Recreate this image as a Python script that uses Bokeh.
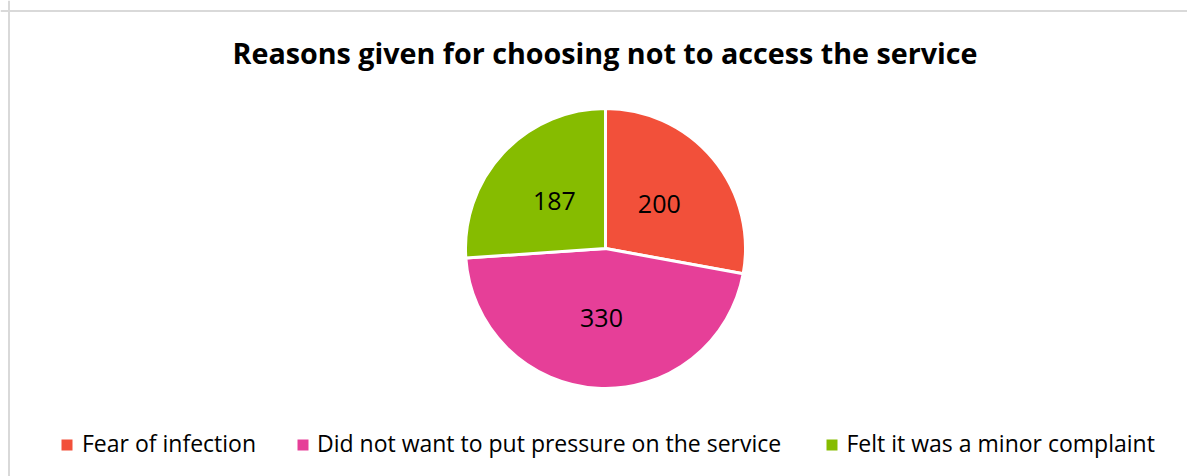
import math
from bokeh.plotting import figure
from bokeh.models import Range1d, Span, ColumnDataSource
from bokeh.core.properties import value
from bokeh.embed import file_html
from bokeh.resources import INLINE

title = "Reasons given for choosing not to access the service"
categories = ["Fear of infection", "Did not want to put pressure on the service", "Felt it was a minor complaint"]
counts = [200, 330, 187]
colors = ["#F2503A", "#E63F98", "#86BC00"]

W, H = 1187, 476
FONT = "Open Sans"
p = figure(width=W, height=H, x_range=Range1d(0, W), y_range=Range1d(0, H),
           output_backend="svg", toolbar_location=None, min_border=0,
           outline_line_color=None, background_fill_color="white", border_fill_color="white")
p.axis.visible = False
p.grid.visible = False

# chart border (top and left visible)
p.add_layout(Span(location=H - 10.5, dimension="width", line_color="#D9D9D9", line_width=2))
p.add_layout(Span(location=8.5, dimension="height", line_color="#D9D9D9", line_width=2))

cx, cy, r = 605, H - 248, 140
total = sum(counts)
starts, ends, lx, ly = [], [], [], []
a = math.pi / 2
for c in counts:
    sweep = 2 * math.pi * c / total
    starts.append(a)
    ends.append(a - sweep)
    mid = a - sweep / 2
    lx.append(cx + 0.5 * r * math.cos(mid))
    ly.append(cy + 0.5 * r * math.sin(mid))
    a -= sweep

src = ColumnDataSource(dict(start=starts, end=ends, color=colors, lx=lx, ly=ly,
                            label=[str(c) for c in counts]))
p.wedge(x=cx, y=cy, radius=r, radius_units="screen", start_angle="start", end_angle="end",
        direction="clock", fill_color="color", line_color="white", line_width=3, source=src)
p.text(x="lx", y="ly", text="label", source=src, text_align="center", text_baseline="middle",
       text_font=value(FONT), text_font_size="25px", text_color="#000000")

# title
p.text(x=[W / 2 + 11], y=[H - 52], text=[title], text_align="center", text_baseline="alphabetic",
       text_font=value(FONT), text_font_size="28.7px", text_font_style="bold", text_color="#000000")

# legend
sq_x = [66.5, 302.5, 831.5]
tx = [81.5, 316.5, 846]
leg = ColumnDataSource(dict(x=sq_x, tx=tx, y=[H - 444.5] * 3, ty=[H - 442] * 3, color=colors, text=categories))
p.scatter(x="x", y="y", marker="square", size=11, fill_color="color", line_color=None, source=leg)
p.text(x="tx", y="ty", text="text", source=leg, text_align="left", text_baseline="alphabetic",
       text_font=value(FONT), text_font_size="23px", text_color="#000000")

open("out.html", "w").write(file_html(p, INLINE))
